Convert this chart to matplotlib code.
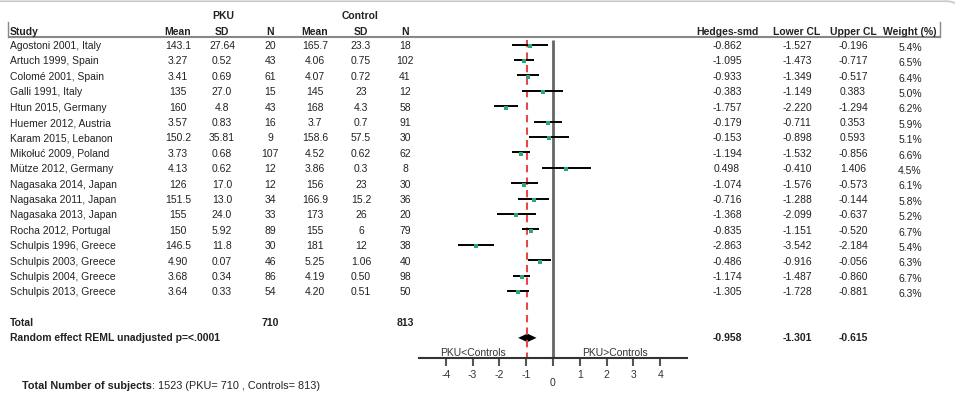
import numpy as np
import matplotlib
matplotlib.use("Agg")
import matplotlib.pyplot as plt
from matplotlib.patches import FancyBboxPatch

plt.rcParams['font.family'] = ['Liberation Sans', 'DejaVu Sans']
plt.rcParams['axes.unicode_minus'] = False

# datos del forest plot
studies = ["Agostoni 2001, Italy", "Artuch 1999, Spain", "Colomé 2001, Spain", "Galli 1991, Italy",
           "Htun 2015, Germany", "Huemer 2012, Austria", "Karam 2015, Lebanon", "Mikołuć 2009, Poland",
           "Mütze 2012, Germany", "Nagasaka 2014, Japan", "Nagasaka 2011, Japan", "Nagasaka 2013, Japan",
           "Rocha 2012, Portugal", "Schulpis 1996, Greece", "Schulpis 2003, Greece", "Schulpis 2004, Greece",
           "Schulpis 2013, Greece"]
pku_mean = ["143.1", "3.27", "3.41", "135", "160", "3.57", "150.2", "3.73", "4.13", "126", "151.5",
            "155", "150", "146.5", "4.90", "3.68", "3.64"]
pku_sd = ["27.64", "0.52", "0.69", "27.0", "4.8", "0.83", "35.81", "0.68", "0.62", "17.0", "13.0",
          "24.0", "5.92", "11.8", "0.07", "0.34", "0.33"]
pku_n = [20, 43, 61, 15, 43, 16, 9, 107, 12, 12, 34, 33, 89, 30, 46, 86, 54]
ctl_mean = ["165.7", "4.06", "4.07", "145", "168", "3.7", "158.6", "4.52", "3.86", "156", "166.9",
            "173", "155", "181", "5.25", "4.19", "4.20"]
ctl_sd = ["23.3", "0.75", "0.72", "23", "4.3", "0.7", "57.5", "0.62", "0.3", "23", "15.2",
          "26", "6", "12", "1.06", "0.50", "0.51"]
ctl_n = [18, 102, 41, 12, 58, 91, 30, 62, 8, 30, 36, 20, 79, 38, 40, 98, 50]
smd = [-0.862, -1.095, -0.933, -0.383, -1.757, -0.179, -0.153, -1.194, 0.498, -1.074, -0.716,
       -1.368, -0.835, -2.863, -0.486, -1.174, -1.305]
lower = [-1.527, -1.473, -1.349, -1.149, -2.220, -0.711, -0.898, -1.532, -0.410, -1.576, -1.288,
         -2.099, -1.151, -3.542, -0.916, -1.487, -1.728]
upper = [-0.196, -0.717, -0.517, 0.383, -1.294, 0.353, 0.593, -0.856, 1.406, -0.573, -0.144,
         -0.637, -0.520, -2.184, -0.056, -0.860, -0.881]
weight = [5.4, 6.5, 6.4, 5.0, 6.2, 5.9, 5.1, 6.6, 4.5, 6.1, 5.8, 5.2, 6.7, 5.4, 6.3, 6.7, 6.3]
pooled = [-0.958, -1.301, -0.615]
axis_ticks = [-4, -3, -2, -1, 1, 2, 3, 4]

# geometría (filas en unidades de fila, x de la tabla en píxeles)
W, H = 955, 398
row0, rowh = 44.5, 15.4
y_top = -row0 / rowh
y_bot = (H - row0) / rowh
n = len(studies)
total_row = n + 1.1
pool_row = n + 2.05
axis_row = n + 3.36
txt = '#222222'
fs = 7.5

fig = plt.figure(figsize=(W / 100, H / 100), dpi=100)
ax = fig.add_axes([0, 0, 1, 1])
ax.set_xlim(0, W)
ax.set_ylim(y_bot, y_top)
ax.axis('off')

# borde redondeado
border = FancyBboxPatch((-30, y_top + 0.08), 989, 40, boxstyle="round,pad=0,rounding_size=12",
                        mutation_aspect=1 / rowh, fc='none', ec='#c8c8c8', lw=1.2)
ax.add_patch(border)

# encabezados
hdr = -0.81
ax.text(223, -1.85, "PKU", ha='center', va='center', fontsize=fs, fontweight='bold', color=txt)
ax.text(360, -1.85, "Control", ha='center', va='center', fontsize=fs, fontweight='bold', color=txt)
ax.text(10, hdr, "Study", ha='left', va='center', fontsize=fs, fontweight='bold', color=txt)
cols_x = [178, 222, 270, 315, 361, 405]
for x, h in zip(cols_x, ["Mean", "SD", "N", "Mean", "SD", "N"]):
    ax.text(x, hdr, h, ha='center', va='center', fontsize=fs, fontweight='bold', color=txt)
right_x = [727, 797, 853, 910]
for x, h in zip(right_x, ["Hedges-smd", "Lower CL", "Upper CL", "Weight (%)"]):
    ax.text(x, hdr, h, ha='center', va='center', fontsize=fs, fontweight='bold', color=txt)
ax.plot([8, 940], [-0.49, -0.49], color='#888888', lw=1.5, solid_capstyle='butt')
ax.plot([8, 8], [-1.45, -0.49], color='#888888', lw=1.0)
ax.plot([940, 940], [-1.45, -0.49], color='#888888', lw=1.0)

# filas de estudios
for i in range(n):
    y = i + 0.1
    ax.text(10, y, studies[i], ha='left', va='center', fontsize=fs, color=txt)
    vals = [pku_mean[i], pku_sd[i], str(pku_n[i]), ctl_mean[i], ctl_sd[i], str(ctl_n[i])]
    for x, v in zip(cols_x, vals):
        ax.text(x, y, v, ha='center', va='center', fontsize=fs, color=txt)
    for x, v in zip(right_x[:3], [smd[i], lower[i], upper[i]]):
        ax.text(x, y, "%.3f" % v, ha='center', va='center', fontsize=fs, color=txt)
    ax.text(right_x[3], y + 0.12, "%.1f%%" % weight[i], ha='center', va='center', fontsize=fs, color=txt)

# totales
ax.text(10, total_row, "Total", ha='left', va='center', fontsize=fs, fontweight='bold', color=txt)
ax.text(cols_x[2], total_row, str(sum(pku_n)), ha='center', va='center', fontsize=fs, fontweight='bold', color=txt)
ax.text(cols_x[5], total_row, str(sum(ctl_n)), ha='center', va='center', fontsize=fs, fontweight='bold', color=txt)
ax.text(10, pool_row, "Random effect REML unadjusted p=<.0001", ha='left', va='center',
        fontsize=fs, fontweight='bold', color=txt)
for x, v in zip(right_x[:3], pooled):
    ax.text(x, pool_row, "%.3f" % v, ha='center', va='center', fontsize=fs, fontweight='bold', color=txt)

t1 = ax.text(22, (386 - row0) / rowh, "Total Number of subjects", ha='left', va='center', fontsize=7.8,
             fontweight='bold', color=txt)
ax.annotate(": %d (PKU= %d , Controls= %d)" % (sum(pku_n) + sum(ctl_n), sum(pku_n), sum(ctl_n)),
            xy=(1, 0.5), xycoords=t1, ha='left', va='center', fontsize=7.8, color=txt)

# forest plot
fx = fig.add_axes([419 / W, 0, 268 / W, 1])
fx.set_xlim(-5, 5)
fx.set_ylim(y_bot, y_top)
fx.patch.set_alpha(0)
for s in ['top', 'left', 'right']:
    fx.spines[s].set_visible(False)
fx.spines['bottom'].set_position(('data', axis_row))
fx.spines['bottom'].set_bounds(-5, 5)
fx.spines['bottom'].set_linewidth(1.5)
fx.spines['bottom'].set_color('#333333')
fx.set_yticks([])
fx.set_xticks(axis_ticks + [0])
fx.set_xticklabels([str(t) for t in axis_ticks] + [''])
fx.tick_params(axis='x', direction='out', length=6, width=1.5, color='#555555',
               labelsize=7.5, labelcolor='#333333', pad=2.5)
fx.text(0, axis_row + 1.6, "0", ha='center', va='center', fontsize=7.5, color='#333333')

rows = np.arange(n)
fx.vlines(0, -0.3, axis_row, color='#666666', lw=2)
fx.vlines(pooled[0], -0.3, axis_row, color='#e8474a', lw=1.5, linestyles=(0, (3.5, 2.5)))
fx.hlines(rows, lower, upper, color='black', lw=1.4)
fx.plot(smd, rows + 0.1, 's', color='#2aa876', ms=2.2, mew=0)
est, lo, hi = pooled
fx.fill([lo, est, hi, est], [pool_row, pool_row - 0.28, pool_row, pool_row + 0.28], color='black', lw=0)

fx.text(-3.0, axis_row - 0.33, "PKU<Controls", ha='center', va='center', fontsize=7.5, color='#333333')
fx.text(2.3, axis_row - 0.33, "PKU>Controls", ha='center', va='center', fontsize=7.5, color='#333333')

fig.savefig("out.png", dpi=100)
